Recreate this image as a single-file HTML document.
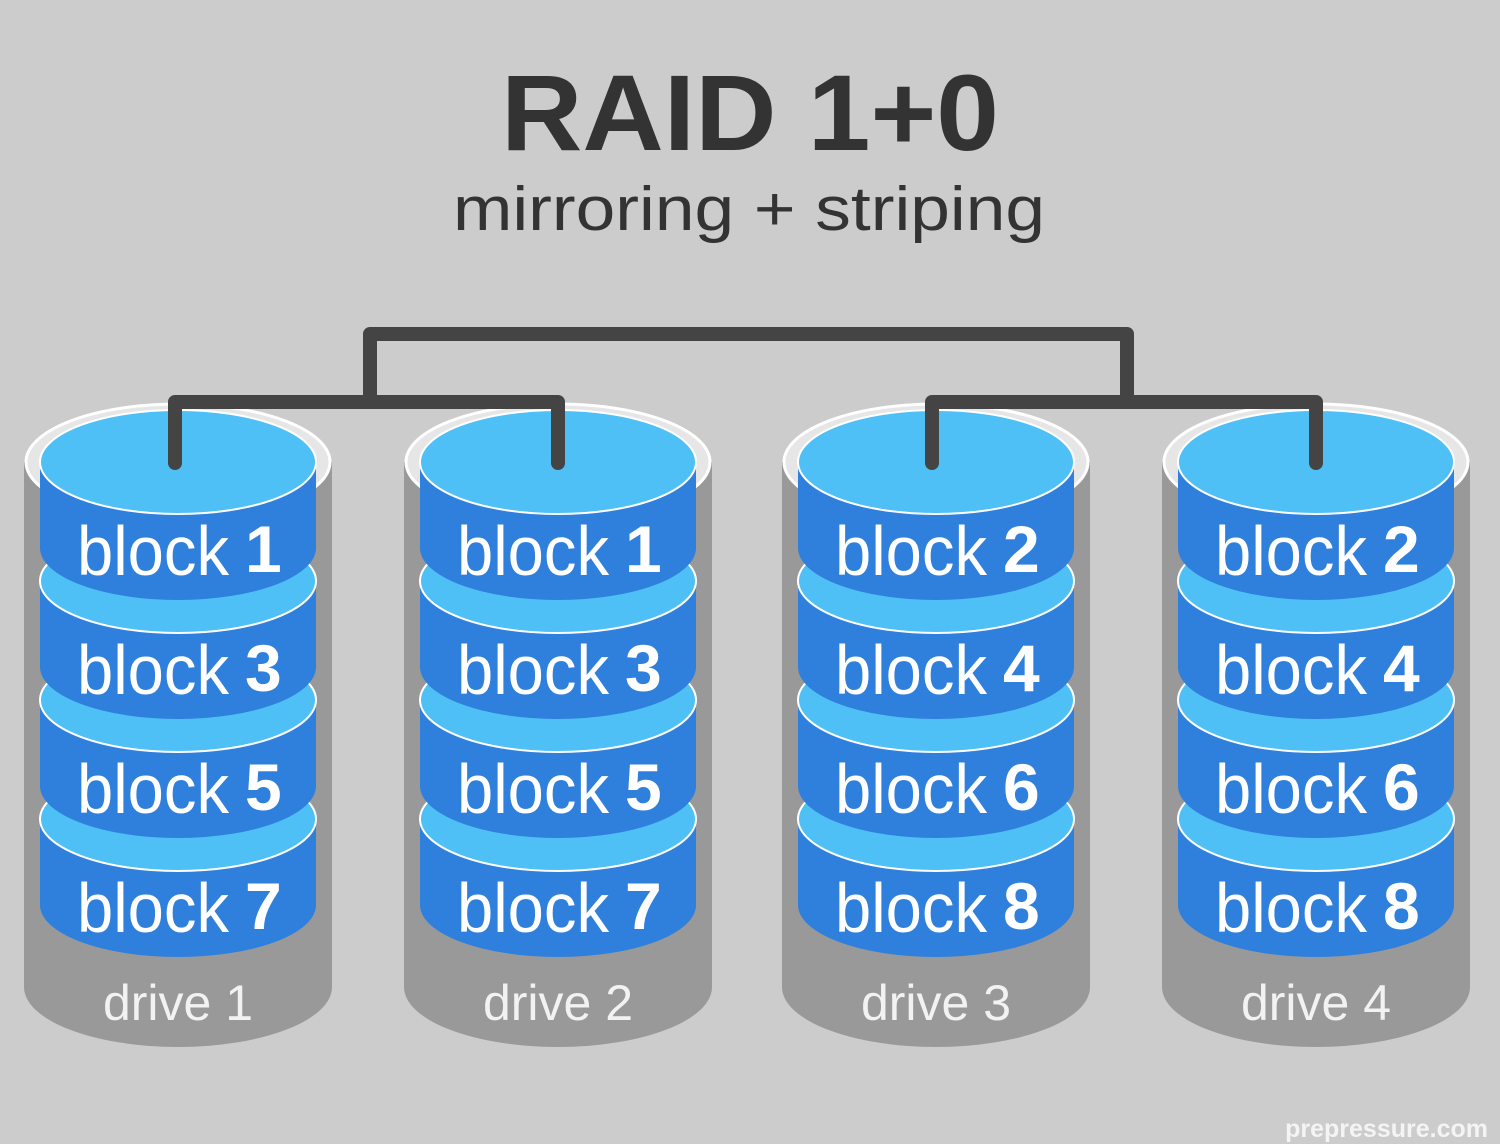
<!DOCTYPE html>
<html><head><meta charset="utf-8"><style>
html,body{margin:0;padding:0;background:#cccccc;}
svg{display:block;}
</style></head><body>
<svg width="1500" height="1144" viewBox="0 0 1500 1144" xmlns="http://www.w3.org/2000/svg" xmlns:xlink="http://www.w3.org/1999/xlink" font-family="'Liberation Sans', sans-serif">
<defs>
<g id="drv">
<path d="M-154,462 V987 A154,60 0 0 0 154,987 V462 Z" fill="#999"/>
<ellipse cx="0" cy="462" rx="152" ry="58" fill="#e6e6e6" stroke="#fff" stroke-width="3"/>
<path d="M-138,819 V905 A138,52 0 0 0 138,905 V819 Z" fill="#2f7fdc"/>
<ellipse cx="0" cy="819" rx="138" ry="52" fill="#4ec0f6" stroke="#fff" stroke-width="2"/>
<path d="M-138,700 V786 A138,52 0 0 0 138,786 V700 Z" fill="#2f7fdc"/>
<ellipse cx="0" cy="700" rx="138" ry="52" fill="#4ec0f6" stroke="#fff" stroke-width="2"/>
<path d="M-138,581 V667 A138,52 0 0 0 138,667 V581 Z" fill="#2f7fdc"/>
<ellipse cx="0" cy="581" rx="138" ry="52" fill="#4ec0f6" stroke="#fff" stroke-width="2"/>
<path d="M-138,462 V548 A138,52 0 0 0 138,548 V462 Z" fill="#2f7fdc"/>
<ellipse cx="0" cy="462" rx="138" ry="52" fill="#4ec0f6" stroke="#fff" stroke-width="2"/>
<g font-size="70" fill="#fff">
<text x="-101" y="575" textLength="152" lengthAdjust="spacingAndGlyphs">block</text>
<text x="-101" y="694" textLength="152" lengthAdjust="spacingAndGlyphs">block</text>
<text x="-101" y="813" textLength="152" lengthAdjust="spacingAndGlyphs">block</text>
<text x="-101" y="932" textLength="152" lengthAdjust="spacingAndGlyphs">block</text>
</g>
</g>
</defs>
<rect width="1500" height="1144" fill="#cccccc"/>
<text x="750" y="150" text-anchor="middle" font-size="108" font-weight="bold" fill="#333" textLength="498" lengthAdjust="spacingAndGlyphs">RAID 1+0</text>
<text x="749" y="230" text-anchor="middle" font-size="62" fill="#333" textLength="592" lengthAdjust="spacingAndGlyphs">mirroring + striping</text>

<use xlink:href="#drv" href="#drv" transform="translate(178,0)"/>
<use xlink:href="#drv" href="#drv" transform="translate(558,0)"/>
<use xlink:href="#drv" href="#drv" transform="translate(936,0)"/>
<use xlink:href="#drv" href="#drv" transform="translate(1316,0)"/>

<g font-size="66" font-weight="bold" fill="#fff">
<text x="245" y="572">1</text><text x="245" y="691">3</text><text x="245" y="810">5</text><text x="245" y="929">7</text>
<text x="625" y="572">1</text><text x="625" y="691">3</text><text x="625" y="810">5</text><text x="625" y="929">7</text>
<text x="1003" y="572">2</text><text x="1003" y="691">4</text><text x="1003" y="810">6</text><text x="1003" y="929">8</text>
<text x="1383" y="572">2</text><text x="1383" y="691">4</text><text x="1383" y="810">6</text><text x="1383" y="929">8</text>
</g>
<g font-size="50" fill="#f2f2f2" text-anchor="middle">
<text x="178" y="1020">drive 1</text>
<text x="558" y="1020">drive 2</text>
<text x="936" y="1020">drive 3</text>
<text x="1316" y="1020">drive 4</text>
</g>

<g fill="none" stroke="#444" stroke-width="14" stroke-linecap="round" stroke-linejoin="round">
<path d="M370,400 V334 H1127 V400"/>
<path d="M175,463 V402 H558 V463"/>
<path d="M932,463 V402 H1316 V463"/>
</g>

<text x="1488" y="1137" text-anchor="end" font-size="25" font-weight="bold" fill="#f4f4f4">prepressure.com</text>
</svg>
</body></html>
